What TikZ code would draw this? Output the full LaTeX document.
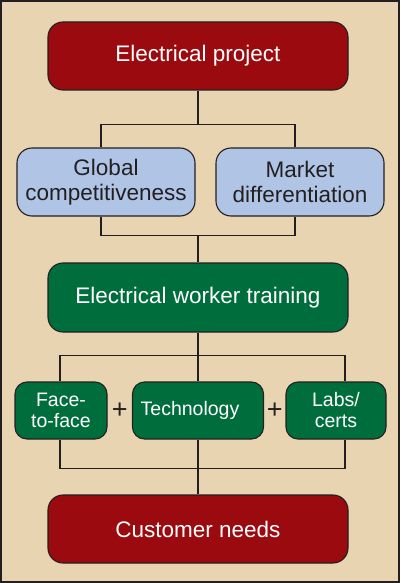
\documentclass[tikz,border=0pt]{standalone}
\usepackage{fontspec}
\setmainfont{Liberation Sans}
\usetikzlibrary{positioning,calc}

\definecolor{panelbg}{HTML}{E8D4B0}
\definecolor{linedark}{HTML}{231F20}
\definecolor{projectred}{HTML}{9B0A0F}
\definecolor{goalblue}{HTML}{B0C5E6}
\definecolor{traingreen}{HTML}{006E3C}

\begin{document}
\begin{tikzpicture}[
    x=1pt, y=1pt,
    big box/.style={rectangle,rounded corners=15pt,draw=linedark,line width=1.1pt,
      minimum width=300pt,minimum height=68pt,inner sep=2pt,align=center,
      font=\fontsize{22.5}{25}\selectfont},
    red box/.style={big box,fill=projectred,text=white},
    green box/.style={big box,fill=traingreen,text=white,minimum height=69pt},
    goal box/.style={big box,fill=goalblue,text=linedark},
    method box/.style={rectangle,rounded corners=12pt,draw=linedark,line width=1.1pt,
      fill=traingreen,text=white,minimum height=57pt,inner sep=2pt,align=center,
      font=\fontsize{19.5}{21}\selectfont},
    plus sign/.style={text=linedark,inner sep=0pt,font=\fontsize{27}{27}\selectfont},
    link/.style={draw=linedark,line width=1.1pt}]

  \useasboundingbox (0,0) rectangle (400,-583);
  \fill[panelbg] (0,0) rectangle (400,-583);

  \node[red box] (project) at (198,-56) {Electrical project};
  \node[goal box, minimum width=178pt] (global) [node distance=126pt, below of=project, xshift=-92pt] {Global\\competitiveness};
  \node[goal box, minimum width=168pt] (market) [node distance=126pt, below of=project, xshift=102pt] {Market\\differentiation};
  \node[green box] (training) [node distance=241.5pt, below of=project] {Electrical worker training};
  \node[method box, minimum width=131pt] (tech) [node distance=113pt, below of=training] {Technology\kern16pt};
  \node[method box, minimum width=92pt] (face) [node distance=137pt, left of=tech] {Face-\\to-face};
  \node[method box, minimum width=100pt] (labs) [node distance=138pt, right of=tech] {Labs/\\certs};
  \node[red box] (customer) [node distance=118.5pt, below of=tech] {Customer needs};
  \node[plus sign] (plus1) at ($(face.east)!0.5!(tech.west)$) {+};
  \node[plus sign] (plus2) at ($(tech.east)!0.5!(labs.west)$) {+};

  % branch points
  \coordinate[below=34pt of project.south] (fork1);
  \coordinate[above=27pt of training.north] (join1);
  \coordinate[below=23pt of training.south] (fork2);
  \coordinate[above=26pt of customer.north] (join2);
  \coordinate (globaltop) at ([xshift=-5pt]global.north);
  \coordinate (globalbot) at ([xshift=-5pt]global.south);
  \coordinate (markettop) at ([xshift=-5pt]market.north);
  \coordinate (marketbot) at ([xshift=-5pt]market.south);
  \coordinate (facetop) at ([xshift=-1pt]face.north);
  \coordinate (facebot) at ([xshift=-1pt]face.south);
  \coordinate (labstop) at ([xshift=9pt]labs.north);
  \coordinate (labsbot) at ([xshift=9pt]labs.south);

  \draw[link] (project) -- (fork1);
  \draw[link] (globaltop) |- (fork1) -| (markettop);
  \draw[link] (globalbot) |- (join1) -| (marketbot);
  \draw[link] (join1) -- (training);
  \draw[link] (training) -- (tech);
  \draw[link] (facetop) |- (fork2) -| (labstop);
  \draw[link] (facebot) |- (join2) -| (labsbot);
  \draw[link] (tech) -- (customer);

  \draw[linedark, line width=2pt] (1,-1) rectangle (399,-582);
\end{tikzpicture}
\end{document}
